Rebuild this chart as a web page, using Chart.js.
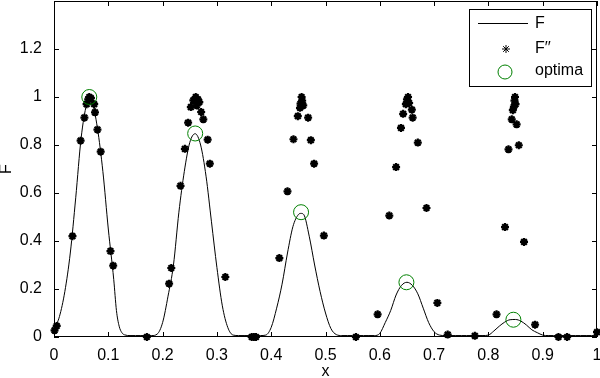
<!DOCTYPE html>
<html>
<head>
<meta charset="utf-8">
<script src="https://cdn.jsdelivr.net/npm/chart.js@4"></script>
<style>
  html, body { margin: 0; padding: 0; background: #fff; }
</style>
</head>
<body>
<canvas id="chart" width="600" height="378"></canvas>
<script>
// F curve
const fX = [0.00, 0.01, 0.02, 0.03, 0.04, 0.05, 0.06, 0.066, 0.07, 0.08, 0.09, 0.10, 0.11, 0.115, 0.12, 0.125, 0.13, 0.14, 0.15, 0.16, 0.17, 0.18,
            0.19, 0.20, 0.21, 0.22, 0.23, 0.24, 0.25, 0.26, 0.27, 0.28, 0.29, 0.30, 0.31, 0.32, 0.33, 0.34, 0.35, 0.36, 0.37, 0.38,
            0.39, 0.40, 0.41, 0.42, 0.43, 0.44, 0.45, 0.455, 0.46, 0.47, 0.48, 0.49, 0.50, 0.51, 0.52, 0.53, 0.54, 0.55, 0.56, 0.57, 0.58,
            0.59, 0.60, 0.61, 0.62, 0.63, 0.64, 0.65, 0.66, 0.67, 0.68, 0.69, 0.70, 0.71, 0.72, 0.73, 0.74, 0.75, 0.76, 0.77, 0.78, 0.79,
            0.80, 0.81, 0.82, 0.83, 0.84, 0.85, 0.86, 0.87, 0.88, 0.89, 0.90, 0.91, 0.92, 0.93, 0.94, 0.95, 0.96, 0.97, 0.98, 0.99, 1.00];
const fY = [0.03, 0.085, 0.19, 0.35, 0.58, 0.83, 0.97, 1.0, 0.985, 0.87, 0.69, 0.45, 0.24, 0.11, 0.045, 0.018, 0.009, 0.006, 0.006, 0.006, 0.006, 0.006,
            0.012, 0.06, 0.17, 0.30, 0.52, 0.69, 0.81, 0.847, 0.80, 0.67, 0.48, 0.29, 0.13, 0.04, 0.008, 0.006, 0.006, 0.006, 0.006, 0.006,
            0.008, 0.04, 0.12, 0.22, 0.35, 0.46, 0.51, 0.515, 0.51, 0.42, 0.30, 0.19, 0.10, 0.035, 0.01, 0.006, 0.006, 0.006, 0.006, 0.006, 0.006,
            0.006, 0.015, 0.06, 0.11, 0.175, 0.215, 0.228, 0.215, 0.18, 0.12, 0.06, 0.022, 0.008, 0.006, 0.006, 0.006, 0.006, 0.006, 0.006, 0.006, 0.006,
            0.008, 0.025, 0.045, 0.062, 0.072, 0.073, 0.066, 0.05, 0.03, 0.018, 0.008, 0.006, 0.006, 0.006, 0.006, 0.006, 0.006, 0.006, 0.006, 0.006, 0.006];

// F'' points
const starX = [0.001, 0.005, 0.034, 0.049, 0.056, 0.060, 0.063, 0.065, 0.068, 0.074, 0.0755, 0.080, 0.086, 0.104, 0.109, 0.171,
               0.212, 0.216, 0.233, 0.241, 0.247, 0.252, 0.2566, 0.261, 0.263, 0.265, 0.2676, 0.271, 0.275, 0.283, 0.287, 0.3155,
               0.364, 0.368, 0.372, 0.415, 0.430, 0.441, 0.449, 0.453, 0.454, 0.456, 0.457, 0.459, 0.468, 0.473, 0.479, 0.497, 0.556,
               0.596, 0.6175, 0.630, 0.639, 0.643, 0.648, 0.650, 0.652, 0.654, 0.659, 0.6605, 0.670, 0.686, 0.706, 0.725, 0.775,
               0.815, 0.8306, 0.837, 0.843, 0.845, 0.847, 0.848, 0.849, 0.850, 0.852, 0.856, 0.8656, 0.886, 0.929, 0.945, 1.0];
const starY = [0.028, 0.046, 0.42, 0.818, 0.914, 0.97, 0.99, 1.0, 0.995, 0.97, 0.936, 0.864, 0.772, 0.358, 0.297, 0.0,
               0.222, 0.2875, 0.63, 0.784, 0.893, 0.958, 0.986, 1.0, 0.965, 0.99, 0.979, 0.9375, 0.907, 0.822, 0.722, 0.25,
               0.0, 0.0, 0.0, 0.329, 0.607, 0.824, 0.92, 0.955, 0.972, 1.0, 0.985, 0.965, 0.914, 0.82, 0.722, 0.4225, 0.0,
               0.0946, 0.506, 0.708, 0.871, 0.93, 0.97, 0.99, 1.0, 0.975, 0.947, 0.914, 0.81, 0.5375, 0.142, 0.01, 0.005,
               0.0946, 0.458, 0.782, 0.907, 0.945, 0.96, 0.985, 1.0, 0.97, 0.886, 0.799, 0.396, 0.0515, 0.0, 0.0, 0.02];

// optima
const optX = [0.065, 0.26, 0.455, 0.649, 0.846];
const optY = [1.0, 0.848, 0.52, 0.228, 0.072];

const xTickVals = [0, 0.1, 0.2, 0.3, 0.4, 0.5, 0.6, 0.7, 0.8, 0.9, 1];
const xTickLabels = ['0', '0.1', '0.2', '0.3', '0.4', '0.5', '0.6', '0.7', '0.8', '0.9', '1'];
const yTickVals = [0, 0.2, 0.4, 0.6, 0.8, 1.0, 1.2, 1.4];
const yTickLabels = ['0', '0.2', '0.4', '0.6', '0.8', '1', '1.2', ''];

const FONT = 'Liberation Sans, Arial, Helvetica, sans-serif';
const toPoints = (xs, ys) => xs.map((x, i) => ({x: x, y: ys[i]}));

// box round the axes with MATLAB-style inward ticks
const framePlugin = {
    id: 'frame',
    afterDatasetsDraw(chart) {
        const {ctx, chartArea: a, scales} = chart;
        const len = 5;
        ctx.save();
        ctx.strokeStyle = '#000';
        ctx.lineWidth = 1;
        ctx.strokeRect(a.left + 0.5, a.top + 0.5, a.right - a.left - 1, a.bottom - a.top - 1);
        ctx.beginPath();
        scales.x.ticks.forEach(t => {
            const px = Math.round(scales.x.getPixelForValue(t.value)) + 0.5;
            ctx.moveTo(px, a.bottom); ctx.lineTo(px, a.bottom - len);
            ctx.moveTo(px, a.top); ctx.lineTo(px, a.top + len);
        });
        scales.y.ticks.forEach(t => {
            const py = Math.round(scales.y.getPixelForValue(t.value)) + 0.5;
            ctx.moveTo(a.left, py); ctx.lineTo(a.left + len, py);
            ctx.moveTo(a.right, py); ctx.lineTo(a.right - len, py);
        });
        ctx.stroke();
        ctx.restore();
    }
};

// legend box in the top right corner
const legendPlugin = {
    id: 'boxLegend',
    afterDraw(chart) {
        const ctx = chart.ctx;
        const ds = chart.data.datasets;
        const bx = 469, by = 9, bw = 122, bh = 77;
        ctx.save();
        ctx.fillStyle = '#fff';
        ctx.fillRect(bx, by, bw, bh);
        ctx.strokeStyle = '#000';
        ctx.lineWidth = 1;
        ctx.strokeRect(bx + 0.5, by + 0.5, bw, bh);

        ctx.beginPath();
        ctx.moveTo(478, 23.5);
        ctx.lineTo(528, 23.5);
        ctx.stroke();

        Chart.helpers.drawPoint(ctx, {pointStyle: 'star', radius: 4, borderWidth: 2.2}, 506, 49);
        ctx.strokeStyle = '#008000';
        ctx.lineWidth = 1;
        ctx.beginPath();
        ctx.arc(505, 72, 7, 0, Math.PI * 2);
        ctx.stroke();

        ctx.fillStyle = '#000';
        ctx.font = '16px ' + FONT;
        ctx.textBaseline = 'middle';
        ctx.fillText(ds[0].label, 535, 24);
        ctx.fillText(ds[1].label, 535, 49);
        ctx.fillText(ds[2].label, 535, 71);
        ctx.restore();
    }
};

new Chart(document.getElementById('chart'), {
    type: 'scatter',
    data: {
        datasets: [
            {
                label: 'F',
                type: 'line',
                data: toPoints(fX, fY),
                borderColor: '#000',
                borderWidth: 1,
                pointRadius: 0,
                cubicInterpolationMode: 'monotone',
                order: 3
            },
            {
                label: 'F\u2032\u2032',
                data: toPoints(starX, starY),
                pointStyle: 'star',
                pointRadius: 4,
                borderColor: '#000',
                backgroundColor: '#000',
                borderWidth: 2.2,
                clip: false,
                order: 2
            },
            {
                label: 'optima',
                data: toPoints(optX, optY),
                pointStyle: 'circle',
                pointRadius: 7.5,
                borderColor: '#008000',
                backgroundColor: 'rgba(0,0,0,0)',
                borderWidth: 1,
                order: 1
            }
        ]
    },
    options: {
        responsive: false,
        animation: false,
        layout: { autoPadding: false, padding: { top: 1, right: 3, left: 0, bottom: 0 } },
        plugins: {
            legend: { display: false },
            tooltip: { enabled: false }
        },
        scales: {
            x: {
                type: 'linear',
                min: 0,
                max: 1,
                afterBuildTicks: s => { s.ticks = xTickVals.map(v => ({value: v})); },
                afterFit: s => { s.height = 41; s.paddingLeft = 0; s.paddingRight = 0; },
                grid: { display: false },
                border: { display: false },
                ticks: {
                    callback: (v, i) => xTickLabels[i],
                    color: '#000',
                    font: { size: 16, family: FONT },
                    padding: 1,
                    maxRotation: 0,
                    autoSkip: false
                },
                title: {
                    display: true,
                    text: 'x',
                    color: '#000',
                    font: { size: 16, family: FONT, lineHeight: 0.8 },
                    padding: 0
                }
            },
            y: {
                type: 'linear',
                min: 0,
                max: 1.4,
                afterBuildTicks: s => { s.ticks = yTickVals.map(v => ({value: v})); },
                afterFit: s => { s.width = 54; s.paddingTop = 0; s.paddingBottom = 0; },
                grid: { display: false },
                border: { display: false },
                ticks: {
                    callback: (v, i) => yTickLabels[i],
                    color: '#000',
                    font: { size: 16, family: FONT },
                    padding: 4,
                    autoSkip: false
                },
                title: {
                    display: true,
                    text: 'F',
                    color: '#000',
                    font: { size: 16, family: FONT, lineHeight: 0.8 },
                    padding: 0
                }
            }
        }
    },
    plugins: [framePlugin, legendPlugin]
});
</script>
</body>
</html>
